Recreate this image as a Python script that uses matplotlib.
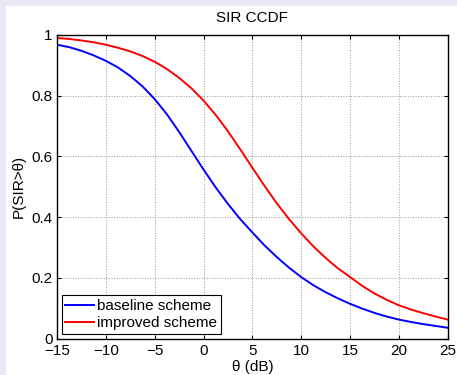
import matplotlib
matplotlib.use("Agg")
import matplotlib.pyplot as plt
from matplotlib.patches import Rectangle

# SIR threshold (dB) and CCDF values (every 1.25 dB)
theta_db = [-15, -13.75, -12.5, -11.25, -10, -8.75, -7.5, -6.25, -5, -3.75, -2.5, -1.25,
            0, 1.25, 2.5, 3.75, 5, 6.25, 7.5, 8.75, 10, 11.25, 12.5, 13.75,
            15, 16.25, 17.5, 18.75, 20, 21.25, 22.5, 23.75, 25]
baseline = [0.968, 0.960, 0.948, 0.933, 0.915, 0.893, 0.865, 0.831, 0.789, 0.739, 0.681, 0.619,
            0.557, 0.498, 0.444, 0.394, 0.350, 0.307, 0.269, 0.234, 0.203, 0.176, 0.153, 0.133,
            0.115, 0.099, 0.085, 0.073, 0.063, 0.055, 0.048, 0.042, 0.036]
improved = [0.990, 0.987, 0.982, 0.976, 0.968, 0.958, 0.946, 0.931, 0.912, 0.888, 0.859, 0.825,
            0.784, 0.737, 0.683, 0.624, 0.563, 0.503, 0.446, 0.394, 0.347, 0.304, 0.266, 0.232,
            0.203, 0.174, 0.149, 0.128, 0.110, 0.096, 0.084, 0.073, 0.063]

xticks = [-15, -10, -5, 0, 5, 10, 15, 20, 25]
yticks = [0, 0.2, 0.4, 0.6, 0.8, 1]
yticklabels = ['0', '0.2', '0.4', '0.6', '0.8', '1']
xticklabels = ['\u221215', '\u221210', '\u22125', '0', '5', '10', '15', '20', '25']

plt.rcParams['font.family'] = ['Liberation Sans', 'DejaVu Sans']
plt.rcParams['font.size'] = 11

fig = plt.figure(figsize=(4.57, 3.75), dpi=100, facecolor='#e9e9f5')
# white panel inside the lavender frame
fig.patches.append(Rectangle((6 / 457, 0), 1, 1 - 6 / 375, transform=fig.transFigure,
                             facecolor='white', edgecolor='none', zorder=-10))

ax = fig.add_axes([57 / 457, 36.3 / 375, 390.7 / 457, 303.7 / 375])
ax.set_zorder(5)
ax.plot(theta_db, baseline, color='#0000ff', lw=1.4, label='baseline scheme')
ax.plot(theta_db, improved, color='#ff0000', lw=1.4, label='improved scheme')

ax.set_xlim(-15, 25)
ax.set_ylim(0, 1)
ax.set_xticks(xticks)
ax.set_xticklabels(xticklabels)
ax.set_yticks(yticks)
ax.set_yticklabels(yticklabels)
ax.tick_params(direction='in', top=True, right=True, length=3, width=0.8)
ax.tick_params(axis='x', pad=4)
ax.tick_params(axis='y', pad=3)
ax.grid(True, linestyle=':', color='#999999', linewidth=0.7)
for s in ax.spines.values():
    s.set_linewidth(1.0)
    s.set_color('black')

ax.set_title('SIR CCDF', fontsize=11, pad=9)
ax.set_xlabel('\u03b8 (dB)', labelpad=1)
ax.set_ylabel('P(SIR>\u03b8)', labelpad=4)

leg = ax.legend(loc='lower left', fancybox=False, edgecolor='black', framealpha=1,
                borderpad=0.25, handlelength=1.85, handletextpad=0.2, labelspacing=0.2,
                borderaxespad=0.3, fontsize=11)
leg.get_frame().set_linewidth(0.8)

fig.savefig('out.png', dpi=100, facecolor=fig.get_facecolor())
